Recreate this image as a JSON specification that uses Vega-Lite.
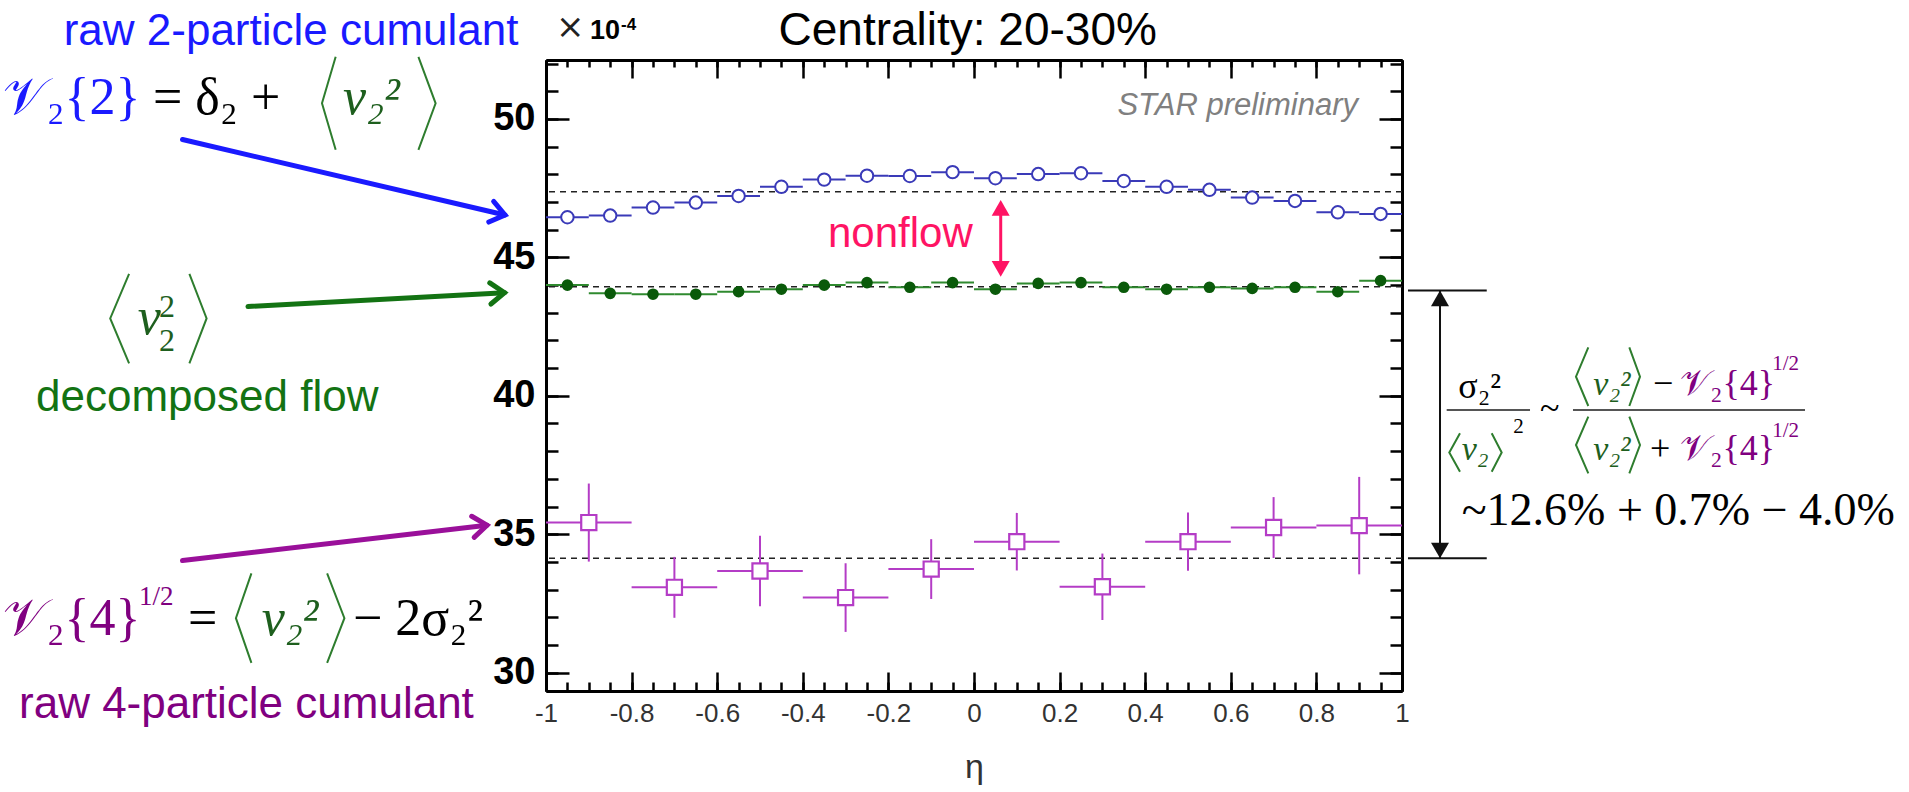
{
  "$schema": "https://vega.github.io/schema/vega-lite/v6.json",
  "width": 856,
  "height": 631,
  "autosize": {"type": "none"},
  "padding": {"left": 546, "top": 60, "right": 507, "bottom": 101},
  "background": "white",
  "config": {
    "view": {"stroke": null},
    "axis": {"grid": false, "domainColor": "#000000", "domainWidth": 3, "tickColor": "#000000", "tickWidth": 2.5}
  },
  "resolve": {"axis": {"x": "independent", "y": "independent"}},
  "datasets": {
    "v2": [
      {"eta": -0.95, "v": 46.45, "xlo": -1.0, "xhi": -0.9},
      {"eta": -0.85, "v": 46.51, "xlo": -0.9, "xhi": -0.8},
      {"eta": -0.75, "v": 46.80, "xlo": -0.8, "xhi": -0.7},
      {"eta": -0.65, "v": 46.98, "xlo": -0.7, "xhi": -0.6},
      {"eta": -0.55, "v": 47.22, "xlo": -0.6, "xhi": -0.5},
      {"eta": -0.45, "v": 47.55, "xlo": -0.5, "xhi": -0.4},
      {"eta": -0.35, "v": 47.81, "xlo": -0.4, "xhi": -0.3},
      {"eta": -0.25, "v": 47.95, "xlo": -0.3, "xhi": -0.2},
      {"eta": -0.15, "v": 47.94, "xlo": -0.2, "xhi": -0.1},
      {"eta": -0.05, "v": 48.08, "xlo": -0.1, "xhi": 0.0},
      {"eta": 0.05, "v": 47.86, "xlo": 0.0, "xhi": 0.1},
      {"eta": 0.15, "v": 48.01, "xlo": 0.1, "xhi": 0.2},
      {"eta": 0.25, "v": 48.04, "xlo": 0.2, "xhi": 0.3},
      {"eta": 0.35, "v": 47.76, "xlo": 0.3, "xhi": 0.4},
      {"eta": 0.45, "v": 47.55, "xlo": 0.4, "xhi": 0.5},
      {"eta": 0.55, "v": 47.44, "xlo": 0.5, "xhi": 0.6},
      {"eta": 0.65, "v": 47.16, "xlo": 0.6, "xhi": 0.7},
      {"eta": 0.75, "v": 47.04, "xlo": 0.7, "xhi": 0.8},
      {"eta": 0.85, "v": 46.63, "xlo": 0.8, "xhi": 0.9},
      {"eta": 0.95, "v": 46.57, "xlo": 0.9, "xhi": 1.0}
    ],
    "mean": [
      {"eta": -0.95, "v": 44.00, "xlo": -1.0, "xhi": -0.9},
      {"eta": -0.85, "v": 43.70, "xlo": -0.9, "xhi": -0.8},
      {"eta": -0.75, "v": 43.67, "xlo": -0.8, "xhi": -0.7},
      {"eta": -0.65, "v": 43.67, "xlo": -0.7, "xhi": -0.6},
      {"eta": -0.55, "v": 43.76, "xlo": -0.6, "xhi": -0.5},
      {"eta": -0.45, "v": 43.85, "xlo": -0.5, "xhi": -0.4},
      {"eta": -0.35, "v": 44.00, "xlo": -0.4, "xhi": -0.3},
      {"eta": -0.25, "v": 44.09, "xlo": -0.3, "xhi": -0.2},
      {"eta": -0.15, "v": 43.92, "xlo": -0.2, "xhi": -0.1},
      {"eta": -0.05, "v": 44.09, "xlo": -0.1, "xhi": 0.0},
      {"eta": 0.05, "v": 43.85, "xlo": 0.0, "xhi": 0.1},
      {"eta": 0.15, "v": 44.06, "xlo": 0.1, "xhi": 0.2},
      {"eta": 0.25, "v": 44.09, "xlo": 0.2, "xhi": 0.3},
      {"eta": 0.35, "v": 43.92, "xlo": 0.3, "xhi": 0.4},
      {"eta": 0.45, "v": 43.85, "xlo": 0.4, "xhi": 0.5},
      {"eta": 0.55, "v": 43.92, "xlo": 0.5, "xhi": 0.6},
      {"eta": 0.65, "v": 43.88, "xlo": 0.6, "xhi": 0.7},
      {"eta": 0.75, "v": 43.92, "xlo": 0.7, "xhi": 0.8},
      {"eta": 0.85, "v": 43.76, "xlo": 0.8, "xhi": 0.9},
      {"eta": 0.95, "v": 44.16, "xlo": 0.9, "xhi": 1.0}
    ],
    "v4": [
      {"eta": -0.9, "v": 35.42, "xlo": -1.0, "xhi": -0.8, "ylo": 34.01, "yhi": 36.83},
      {"eta": -0.7, "v": 33.08, "xlo": -0.8, "xhi": -0.6, "ylo": 31.98, "yhi": 34.18},
      {"eta": -0.5, "v": 33.67, "xlo": -0.6, "xhi": -0.4, "ylo": 32.40, "yhi": 34.94},
      {"eta": -0.3, "v": 32.71, "xlo": -0.4, "xhi": -0.2, "ylo": 31.47, "yhi": 33.95},
      {"eta": -0.1, "v": 33.74, "xlo": -0.2, "xhi": 0.0, "ylo": 32.66, "yhi": 34.82},
      {"eta": 0.1, "v": 34.73, "xlo": 0.0, "xhi": 0.2, "ylo": 33.69, "yhi": 35.77},
      {"eta": 0.3, "v": 33.10, "xlo": 0.2, "xhi": 0.4, "ylo": 31.90, "yhi": 34.30},
      {"eta": 0.5, "v": 34.73, "xlo": 0.4, "xhi": 0.6, "ylo": 33.68, "yhi": 35.78},
      {"eta": 0.7, "v": 35.24, "xlo": 0.6, "xhi": 0.8, "ylo": 34.14, "yhi": 36.34},
      {"eta": 0.9, "v": 35.31, "xlo": 0.8, "xhi": 1.0, "ylo": 33.55, "yhi": 37.07}
    ],
    "ref": [
      {"s": "v2", "v": 47.37},
      {"s": "mean", "v": 43.94},
      {"s": "v4", "v": 34.13}
    ],
    "ann": [
      {"k": "lab_blue", "x": -2.1269, "y": 52.681, "t": "raw 2-particle cumulant"},
      {"k": "lab_green", "x": -2.1916, "y": 39.433, "t": "decomposed flow"},
      {"k": "lab_purple", "x": -2.2313, "y": 28.36, "t": "raw 4-particle cumulant"},
      {"k": "f52_blue", "x": -2.2678, "y": 50.195, "t": "𝒱₂{2}"},
      {"k": "f52_black", "x": -1.9182, "y": 50.195, "t": "= δ₂ +"},
      {"k": "f52_green", "x": -1.4743, "y": 50.195, "t": "ν₂²"},
      {"k": "f52_green", "x": -1.954, "y": 42.233, "t": "ν"},
      {"k": "f34_green2", "x": -1.9042, "y": 42.847, "t": "2"},
      {"k": "f34_green2", "x": -1.9042, "y": 41.618, "t": "2"},
      {"k": "f52_purple", "x": -2.2678, "y": 31.344, "t": "𝒱₂{4}"},
      {"k": "f28_purple", "x": -1.951, "y": 32.45, "t": "1/2"},
      {"k": "f52_black", "x": -1.8364, "y": 31.344, "t": "="},
      {"k": "f52_green", "x": -1.6643, "y": 31.344, "t": "ν₂²"},
      {"k": "f52_black", "x": -1.4509, "y": 31.344, "t": "− 2σ₂²"},
      {"k": "f34_black", "x": 1.1316, "y": 39.909, "t": "σ₂²"},
      {"k": "f34_green", "x": 1.1395, "y": 37.681, "t": "ν₂"},
      {"k": "f20_black", "x": 1.26, "y": 38.656, "t": "2"},
      {"k": "f34_black", "x": 1.3224, "y": 39.126, "t": "~"},
      {"k": "f34_green", "x": 1.447, "y": 40.029, "t": "ν₂²"},
      {"k": "f34_black", "x": 1.5864, "y": 40.029, "t": "−"},
      {"k": "f34_purple", "x": 1.6495, "y": 40.029, "t": "𝒱₂{4}"},
      {"k": "f20_purple", "x": 1.865, "y": 40.932, "t": "1/2"},
      {"k": "f34_green", "x": 1.447, "y": 37.681, "t": "ν₂²"},
      {"k": "f34_black", "x": 1.5794, "y": 37.681, "t": "+"},
      {"k": "f34_purple", "x": 1.6495, "y": 37.681, "t": "𝒱₂{4}"},
      {"k": "f20_purple", "x": 1.865, "y": 38.523, "t": "1/2"},
      {"k": "f46_black", "x": 1.1395, "y": 35.332, "t": "~12.6% + 0.7% − 4.0%"},
      {"k": "title", "x": -0.0147, "y": 52.655, "t": "Centrality: 20-30%"},
      {"k": "times", "x": -0.9766, "y": 52.93, "t": "×"},
      {"k": "ten", "x": -0.8972, "y": 52.879, "t": "10"},
      {"k": "exp", "x": -0.8248, "y": 53.215, "t": "-4"},
      {"k": "star", "x": 0.8972, "y": 50.145, "t": "STAR preliminary"},
      {"k": "nonflow", "x": -0.3411, "y": 45.387, "t": "nonflow"}
    ],
    "brk": [
      {"id": "f1L", "o": 0, "x": -1.4914, "y": 52.247}, {"id": "f1L", "o": 1, "x": -1.5234, "y": 50.567}, {"id": "f1L", "o": 2, "x": -1.4914, "y": 48.887},
      {"id": "f1R", "o": 0, "x": -1.2981, "y": 52.247}, {"id": "f1R", "o": 1, "x": -1.2579, "y": 50.567}, {"id": "f1R", "o": 2, "x": -1.2981, "y": 48.887},
      {"id": "f2L", "o": 0, "x": -1.9741, "y": 44.407}, {"id": "f2L", "o": 1, "x": -2.0182, "y": 42.793}, {"id": "f2L", "o": 2, "x": -1.9741, "y": 41.174},
      {"id": "f2R", "o": 0, "x": -1.8332, "y": 44.407}, {"id": "f2R", "o": 1, "x": -1.793, "y": 42.793}, {"id": "f2R", "o": 2, "x": -1.8332, "y": 41.174},
      {"id": "f3L", "o": 0, "x": -1.6883, "y": 33.584}, {"id": "f3L", "o": 1, "x": -1.7245, "y": 31.965}, {"id": "f3L", "o": 2, "x": -1.6883, "y": 30.35},
      {"id": "f3R", "o": 0, "x": -1.5114, "y": 33.584}, {"id": "f3R", "o": 1, "x": -1.471, "y": 31.965}, {"id": "f3R", "o": 2, "x": -1.5114, "y": 30.35},
      {"id": "r1L", "o": 0, "x": 1.1355, "y": 38.645}, {"id": "r1L", "o": 1, "x": 1.1105, "y": 37.952}, {"id": "r1L", "o": 2, "x": 1.1355, "y": 37.258},
      {"id": "r1R", "o": 0, "x": 1.2096, "y": 38.645}, {"id": "r1R", "o": 1, "x": 1.2329, "y": 37.952}, {"id": "r1R", "o": 2, "x": 1.2096, "y": 37.258},
      {"id": "r2L", "o": 0, "x": 1.4353, "y": 41.752}, {"id": "r2L", "o": 1, "x": 1.4065, "y": 40.69}, {"id": "r2L", "o": 2, "x": 1.4353, "y": 39.631},
      {"id": "r2R", "o": 0, "x": 1.5311, "y": 41.752}, {"id": "r2R", "o": 1, "x": 1.5561, "y": 40.69}, {"id": "r2R", "o": 2, "x": 1.5311, "y": 39.631},
      {"id": "r3L", "o": 0, "x": 1.4353, "y": 39.245}, {"id": "r3L", "o": 1, "x": 1.4065, "y": 38.222}, {"id": "r3L", "o": 2, "x": 1.4353, "y": 37.2},
      {"id": "r3R", "o": 0, "x": 1.5311, "y": 39.245}, {"id": "r3R", "o": 1, "x": 1.5561, "y": 38.222}, {"id": "r3R", "o": 2, "x": 1.5311, "y": 37.2}
    ],
    "arrows": [
      {"k": "blue", "x": -1.8493, "y": 49.259, "x2": -1.0958, "y2": 46.532},
      {"k": "green", "x": -1.6963, "y": 43.226, "x2": -1.097, "y2": 43.725},
      {"k": "purple", "x": -1.8493, "y": 34.046, "x2": -1.1379, "y2": 35.325}
    ],
    "bars": [
      {"k": "bracket", "x": 1.014, "y": 43.80, "x2": 1.198, "y2": 43.80},
      {"k": "bracket", "x": 1.014, "y": 34.13, "x2": 1.198, "y2": 34.13},
      {"k": "bracket", "x": 1.0888, "y": 43.80, "x2": 1.0888, "y2": 34.13},
      {"k": "frac", "x": 1.1044, "y": 39.487, "x2": 1.2991, "y2": 39.487},
      {"k": "frac", "x": 1.3995, "y": 39.487, "x2": 1.9416, "y2": 39.487},
      {"k": "nonflow", "x": 0.0624, "y": 46.79, "x2": 0.0624, "y2": 44.585}
    ],
    "heads": [
      {"k": "up_black", "x": 1.0888, "y": 43.52},
      {"k": "down_black", "x": 1.0888, "y": 34.41},
      {"k": "up_pink", "x": 0.0624, "y": 46.79},
      {"k": "down_pink", "x": 0.0624, "y": 44.585}
    ]
  },
  "layer": [
    {
      "data": {"name": "ref"},
      "mark": {"type": "rule", "color": "#222222", "strokeWidth": 1.6, "strokeDash": [6, 5]},
      "encoding": {
        "y": {"field": "v", "type": "quantitative", "scale": {"domain": [29.335, 52.131], "nice": false, "zero": false}, "axis": null}
      }
    },
    {
      "data": {"name": "v2"},
      "mark": {"type": "rule", "color": "#3a3ab8", "strokeWidth": 2},
      "encoding": {
        "x": {"field": "xlo", "type": "quantitative", "scale": {"domain": [-1, 1], "nice": false, "zero": false},
          "axis": {"orient": "bottom", "values": [-1, -0.8, -0.6, -0.4, -0.2, 0, 0.2, 0.4, 0.6, 0.8, 1], "tickSize": -19, "labelPadding": 28, "labelExpr": "toString(datum.value)", "labelFont": "Liberation Sans", "labelFontSize": 26, "labelColor": "#333333", "labelFlush": false, "labelOverlap": false, "title": "η", "titleFont": "Liberation Sans", "titleFontSize": 34, "titleFontWeight": "normal", "titleColor": "#333333", "titlePadding": 24}},
        "x2": {"field": "xhi"},
        "y": {"field": "v", "type": "quantitative", "scale": {"domain": [29.335, 52.131], "nice": false, "zero": false},
          "axis": {"orient": "left", "values": [30, 35, 40, 45, 50], "tickSize": -23, "labelPadding": 34, "labelFont": "Liberation Sans", "labelFontSize": 38, "labelFontWeight": "bold", "labelColor": "#000000", "labelFlush": false, "title": null}}
      }
    },
    {
      "data": {"name": "v2"},
      "mark": {"type": "point", "shape": "circle", "filled": true, "fill": "white", "stroke": "#3a3ab8", "strokeWidth": 2, "size": 155, "opacity": 1},
      "encoding": {
        "x": {"field": "eta", "type": "quantitative", "scale": {"domain": [-1, 1], "nice": false, "zero": false},
          "axis": {"orient": "bottom", "values": [-0.95, -0.9, -0.85, -0.8, -0.75, -0.7, -0.65, -0.6, -0.55, -0.5, -0.45, -0.4, -0.35, -0.3, -0.25, -0.2, -0.15, -0.1, -0.05, 0, 0.05, 0.1, 0.15, 0.2, 0.25, 0.3, 0.35, 0.4, 0.45, 0.5, 0.55, 0.6, 0.65, 0.7, 0.75, 0.8, 0.85, 0.9, 0.95], "tickSize": -9, "labels": false, "title": null}},
        "y": {"field": "v", "type": "quantitative", "scale": {"domain": [29.335, 52.131], "nice": false, "zero": false},
          "axis": {"orient": "left", "values": [30, 31, 32, 33, 34, 35, 36, 37, 38, 39, 40, 41, 42, 43, 44, 45, 46, 47, 48, 49, 50, 51, 52], "tickSize": -12, "labels": false, "title": null}}
      }
    },
    {
      "data": {"name": "mean"},
      "mark": {"type": "rule", "color": "#2f8a2f", "strokeWidth": 2},
      "encoding": {
        "x": {"field": "xlo", "type": "quantitative", "scale": {"domain": [-1, 1], "nice": false, "zero": false},
          "axis": {"orient": "top", "values": [-1, -0.8, -0.6, -0.4, -0.2, 0, 0.2, 0.4, 0.6, 0.8, 1], "tickSize": -18, "labels": false, "title": null}},
        "x2": {"field": "xhi"},
        "y": {"field": "v", "type": "quantitative", "scale": {"domain": [29.335, 52.131], "nice": false, "zero": false},
          "axis": {"orient": "right", "values": [30, 35, 40, 45, 50], "tickSize": -23, "labels": false, "title": null}}
      }
    },
    {
      "data": {"name": "mean"},
      "mark": {"type": "point", "shape": "circle", "filled": true, "color": "#0a5a0a", "size": 135, "opacity": 1},
      "encoding": {
        "x": {"field": "eta", "type": "quantitative", "scale": {"domain": [-1, 1], "nice": false, "zero": false},
          "axis": {"orient": "top", "values": [-0.95, -0.9, -0.85, -0.8, -0.75, -0.7, -0.65, -0.6, -0.55, -0.5, -0.45, -0.4, -0.35, -0.3, -0.25, -0.2, -0.15, -0.1, -0.05, 0, 0.05, 0.1, 0.15, 0.2, 0.25, 0.3, 0.35, 0.4, 0.45, 0.5, 0.55, 0.6, 0.65, 0.7, 0.75, 0.8, 0.85, 0.9, 0.95], "tickSize": -7, "labels": false, "title": null}},
        "y": {"field": "v", "type": "quantitative", "scale": {"domain": [29.335, 52.131], "nice": false, "zero": false},
          "axis": {"orient": "right", "values": [30, 31, 32, 33, 34, 35, 36, 37, 38, 39, 40, 41, 42, 43, 44, 45, 46, 47, 48, 49, 50, 51, 52], "tickSize": -12, "labels": false, "title": null}}
      }
    },
    {
      "data": {"name": "v4"},
      "mark": {"type": "rule", "color": "#b43cc6", "strokeWidth": 2},
      "encoding": {
        "x": {"field": "xlo", "type": "quantitative", "scale": {"domain": [-1, 1], "nice": false, "zero": false}, "axis": null},
        "x2": {"field": "xhi"},
        "y": {"field": "v", "type": "quantitative", "scale": {"domain": [29.335, 52.131], "nice": false, "zero": false}, "axis": null}
      }
    },
    {
      "data": {"name": "v4"},
      "mark": {"type": "rule", "color": "#b43cc6", "strokeWidth": 2},
      "encoding": {
        "x": {"field": "eta", "type": "quantitative", "scale": {"domain": [-1, 1], "nice": false, "zero": false}, "axis": null},
        "y": {"field": "ylo", "type": "quantitative", "scale": {"domain": [29.335, 52.131], "nice": false, "zero": false}, "axis": null},
        "y2": {"field": "yhi"}
      }
    },
    {
      "data": {"name": "v4"},
      "mark": {"type": "point", "shape": "square", "filled": true, "fill": "white", "stroke": "#b43cc6", "strokeWidth": 2.2, "size": 230, "opacity": 1},
      "encoding": {
        "x": {"field": "eta", "type": "quantitative", "scale": {"domain": [-1, 1], "nice": false, "zero": false}, "axis": null},
        "y": {"field": "v", "type": "quantitative", "scale": {"domain": [29.335, 52.131], "nice": false, "zero": false}, "axis": null}
      }
    },
    {
      "data": {"name": "bars"},
      "transform": [{"filter": "datum.k === 'bracket'"}],
      "mark": {"type": "rule", "color": "#111111", "strokeWidth": 2, "clip": false},
      "encoding": {
        "x": {"field": "x", "type": "quantitative", "scale": {"domain": [-1, 1], "nice": false, "zero": false}, "axis": null},
        "y": {"field": "y", "type": "quantitative", "scale": {"domain": [29.335, 52.131], "nice": false, "zero": false}, "axis": null},
        "x2": {"field": "x2"},
        "y2": {"field": "y2"}
      }
    },
    {
      "data": {"name": "bars"},
      "transform": [{"filter": "datum.k === 'frac'"}],
      "mark": {"type": "rule", "color": "#555555", "strokeWidth": 2, "clip": false},
      "encoding": {
        "x": {"field": "x", "type": "quantitative", "scale": {"domain": [-1, 1], "nice": false, "zero": false}, "axis": null},
        "y": {"field": "y", "type": "quantitative", "scale": {"domain": [29.335, 52.131], "nice": false, "zero": false}, "axis": null},
        "x2": {"field": "x2"},
        "y2": {"field": "y2"}
      }
    },
    {
      "data": {"name": "bars"},
      "transform": [{"filter": "datum.k === 'nonflow'"}],
      "mark": {"type": "rule", "color": "#ff1464", "strokeWidth": 3, "clip": false},
      "encoding": {
        "x": {"field": "x", "type": "quantitative", "scale": {"domain": [-1, 1], "nice": false, "zero": false}, "axis": null},
        "y": {"field": "y", "type": "quantitative", "scale": {"domain": [29.335, 52.131], "nice": false, "zero": false}, "axis": null},
        "x2": {"field": "x2"},
        "y2": {"field": "y2"}
      }
    },
    {
      "data": {"name": "brk"},
      "mark": {"type": "line", "color": "#2e7d2e", "strokeWidth": 2, "clip": false},
      "encoding": {
        "x": {"field": "x", "type": "quantitative", "scale": {"domain": [-1, 1], "nice": false, "zero": false}, "axis": null},
        "y": {"field": "y", "type": "quantitative", "scale": {"domain": [29.335, 52.131], "nice": false, "zero": false}, "axis": null},
        "detail": {"field": "id", "type": "nominal"},
        "order": {"field": "o", "type": "quantitative"}
      }
    },
    {
      "data": {"name": "heads"},
      "transform": [{"filter": "datum.k === 'up_black'"}],
      "mark": {"type": "point", "shape": "triangle-up", "filled": true, "color": "#111111", "size": 324, "opacity": 1, "clip": false},
      "encoding": {
        "x": {"field": "x", "type": "quantitative", "scale": {"domain": [-1, 1], "nice": false, "zero": false}, "axis": null},
        "y": {"field": "y", "type": "quantitative", "scale": {"domain": [29.335, 52.131], "nice": false, "zero": false}, "axis": null}
      }
    },
    {
      "data": {"name": "heads"},
      "transform": [{"filter": "datum.k === 'down_black'"}],
      "mark": {"type": "point", "shape": "triangle-down", "filled": true, "color": "#111111", "size": 324, "opacity": 1, "clip": false},
      "encoding": {
        "x": {"field": "x", "type": "quantitative", "scale": {"domain": [-1, 1], "nice": false, "zero": false}, "axis": null},
        "y": {"field": "y", "type": "quantitative", "scale": {"domain": [29.335, 52.131], "nice": false, "zero": false}, "axis": null}
      }
    },
    {
      "data": {"name": "heads"},
      "transform": [{"filter": "datum.k === 'up_pink'"}],
      "mark": {"type": "point", "shape": "triangle-up", "filled": true, "color": "#ff1464", "size": 324, "opacity": 1, "clip": false},
      "encoding": {
        "x": {"field": "x", "type": "quantitative", "scale": {"domain": [-1, 1], "nice": false, "zero": false}, "axis": null},
        "y": {"field": "y", "type": "quantitative", "scale": {"domain": [29.335, 52.131], "nice": false, "zero": false}, "axis": null}
      }
    },
    {
      "data": {"name": "heads"},
      "transform": [{"filter": "datum.k === 'down_pink'"}],
      "mark": {"type": "point", "shape": "triangle-down", "filled": true, "color": "#ff1464", "size": 324, "opacity": 1, "clip": false},
      "encoding": {
        "x": {"field": "x", "type": "quantitative", "scale": {"domain": [-1, 1], "nice": false, "zero": false}, "axis": null},
        "y": {"field": "y", "type": "quantitative", "scale": {"domain": [29.335, 52.131], "nice": false, "zero": false}, "axis": null}
      }
    },
    {
      "data": {"name": "arrows"},
      "transform": [{"filter": "datum.k === 'blue'"}],
      "layer": [
        {"mark": {"type": "rule", "color": "#1a1aff", "strokeWidth": 5, "strokeCap": "round", "clip": false},
         "encoding": {
          "x": {"field": "x", "type": "quantitative", "scale": {"domain": [-1, 1], "nice": false, "zero": false}, "axis": null},
          "y": {"field": "y", "type": "quantitative", "scale": {"domain": [29.335, 52.131], "nice": false, "zero": false}, "axis": null},
          "x2": {"field": "x2"}, "y2": {"field": "y2"}}},
        {"mark": {"type": "point", "shape": "M-1,-0.75L0,0L-1,0.75", "filled": false, "stroke": "#1a1aff", "strokeWidth": 5, "strokeCap": "round", "strokeJoin": "miter", "size": 800, "angle": 13.2, "opacity": 1, "clip": false},
         "encoding": {
          "x": {"field": "x2", "type": "quantitative", "scale": {"domain": [-1, 1], "nice": false, "zero": false}, "axis": null},
          "y": {"field": "y2", "type": "quantitative", "scale": {"domain": [29.335, 52.131], "nice": false, "zero": false}, "axis": null}}}
      ]
    },
    {
      "data": {"name": "arrows"},
      "transform": [{"filter": "datum.k === 'green'"}],
      "layer": [
        {"mark": {"type": "rule", "color": "#137313", "strokeWidth": 5, "strokeCap": "round", "clip": false},
         "encoding": {
          "x": {"field": "x", "type": "quantitative", "scale": {"domain": [-1, 1], "nice": false, "zero": false}, "axis": null},
          "y": {"field": "y", "type": "quantitative", "scale": {"domain": [29.335, 52.131], "nice": false, "zero": false}, "axis": null},
          "x2": {"field": "x2"}, "y2": {"field": "y2"}}},
        {"mark": {"type": "point", "shape": "M-1,-0.75L0,0L-1,0.75", "filled": false, "stroke": "#137313", "strokeWidth": 5, "strokeCap": "round", "strokeJoin": "miter", "size": 800, "angle": -3.1, "opacity": 1, "clip": false},
         "encoding": {
          "x": {"field": "x2", "type": "quantitative", "scale": {"domain": [-1, 1], "nice": false, "zero": false}, "axis": null},
          "y": {"field": "y2", "type": "quantitative", "scale": {"domain": [29.335, 52.131], "nice": false, "zero": false}, "axis": null}}}
      ]
    },
    {
      "data": {"name": "arrows"},
      "transform": [{"filter": "datum.k === 'purple'"}],
      "layer": [
        {"mark": {"type": "rule", "color": "#9a109a", "strokeWidth": 5, "strokeCap": "round", "clip": false},
         "encoding": {
          "x": {"field": "x", "type": "quantitative", "scale": {"domain": [-1, 1], "nice": false, "zero": false}, "axis": null},
          "y": {"field": "y", "type": "quantitative", "scale": {"domain": [29.335, 52.131], "nice": false, "zero": false}, "axis": null},
          "x2": {"field": "x2"}, "y2": {"field": "y2"}}},
        {"mark": {"type": "point", "shape": "M-1,-0.75L0,0L-1,0.75", "filled": false, "stroke": "#9a109a", "strokeWidth": 5, "strokeCap": "round", "strokeJoin": "miter", "size": 800, "angle": -6.6, "opacity": 1, "clip": false},
         "encoding": {
          "x": {"field": "x2", "type": "quantitative", "scale": {"domain": [-1, 1], "nice": false, "zero": false}, "axis": null},
          "y": {"field": "y2", "type": "quantitative", "scale": {"domain": [29.335, 52.131], "nice": false, "zero": false}, "axis": null}}}
      ]
    },
    {
      "data": {"name": "ann"},
      "layer": [
        {"transform": [{"filter": "datum.k === 'lab_blue'"}], "mark": {"type": "text", "font": "Liberation Sans", "fontSize": 44, "color": "#1a1aff", "align": "left", "baseline": "alphabetic", "clip": false}},
        {"transform": [{"filter": "datum.k === 'lab_green'"}], "mark": {"type": "text", "font": "Liberation Sans", "fontSize": 44, "color": "#137313", "align": "left", "baseline": "alphabetic", "clip": false}},
        {"transform": [{"filter": "datum.k === 'lab_purple'"}], "mark": {"type": "text", "font": "Liberation Sans", "fontSize": 44, "color": "#800080", "align": "left", "baseline": "alphabetic", "clip": false}},
        {"transform": [{"filter": "datum.k === 'f52_blue'"}], "mark": {"type": "text", "font": "Liberation Serif", "fontSize": 52, "color": "#1a1aff", "align": "left", "baseline": "alphabetic", "clip": false}},
        {"transform": [{"filter": "datum.k === 'f52_black'"}], "mark": {"type": "text", "font": "Liberation Serif", "fontSize": 52, "color": "#000000", "align": "left", "baseline": "alphabetic", "clip": false}},
        {"transform": [{"filter": "datum.k === 'f52_green'"}], "mark": {"type": "text", "font": "Liberation Serif", "fontSize": 52, "fontStyle": "italic", "color": "#1e5f1e", "align": "left", "baseline": "alphabetic", "clip": false}},
        {"transform": [{"filter": "datum.k === 'f34_green2'"}], "mark": {"type": "text", "font": "Liberation Serif", "fontSize": 32, "color": "#1e5f1e", "align": "left", "baseline": "alphabetic", "clip": false}},
        {"transform": [{"filter": "datum.k === 'f52_purple'"}], "mark": {"type": "text", "font": "Liberation Serif", "fontSize": 52, "color": "#800080", "align": "left", "baseline": "alphabetic", "clip": false}},
        {"transform": [{"filter": "datum.k === 'f28_purple'"}], "mark": {"type": "text", "font": "Liberation Serif", "fontSize": 27, "color": "#800080", "align": "left", "baseline": "alphabetic", "clip": false}},
        {"transform": [{"filter": "datum.k === 'f34_black'"}], "mark": {"type": "text", "font": "Liberation Serif", "fontSize": 36, "color": "#000000", "align": "left", "baseline": "alphabetic", "clip": false}},
        {"transform": [{"filter": "datum.k === 'f34_green'"}], "mark": {"type": "text", "font": "Liberation Serif", "fontSize": 34, "fontStyle": "italic", "color": "#1e5f1e", "align": "left", "baseline": "alphabetic", "clip": false}},
        {"transform": [{"filter": "datum.k === 'f34_purple'"}], "mark": {"type": "text", "font": "Liberation Serif", "fontSize": 36, "color": "#800080", "align": "left", "baseline": "alphabetic", "clip": false}},
        {"transform": [{"filter": "datum.k === 'f20_purple'"}], "mark": {"type": "text", "font": "Liberation Serif", "fontSize": 21, "color": "#800080", "align": "left", "baseline": "alphabetic", "clip": false}},
        {"transform": [{"filter": "datum.k === 'f20_black'"}], "mark": {"type": "text", "font": "Liberation Serif", "fontSize": 21, "color": "#000000", "align": "left", "baseline": "alphabetic", "clip": false}},
        {"transform": [{"filter": "datum.k === 'f46_black'"}], "mark": {"type": "text", "font": "Liberation Serif", "fontSize": 46, "color": "#000000", "align": "left", "baseline": "alphabetic", "clip": false}},
        {"transform": [{"filter": "datum.k === 'title'"}], "mark": {"type": "text", "font": "Liberation Sans", "fontSize": 46, "color": "#000000", "align": "center", "baseline": "alphabetic", "clip": false}},
        {"transform": [{"filter": "datum.k === 'times'"}], "mark": {"type": "text", "font": "DejaVu Sans", "fontSize": 34, "color": "#222222", "align": "left", "baseline": "alphabetic", "clip": false}},
        {"transform": [{"filter": "datum.k === 'ten'"}], "mark": {"type": "text", "font": "Liberation Sans", "fontSize": 27, "fontWeight": "bold", "color": "#000000", "align": "left", "baseline": "alphabetic", "clip": false}},
        {"transform": [{"filter": "datum.k === 'exp'"}], "mark": {"type": "text", "font": "Liberation Sans", "fontSize": 17, "fontWeight": "bold", "color": "#000000", "align": "left", "baseline": "alphabetic", "clip": false}},
        {"transform": [{"filter": "datum.k === 'star'"}], "mark": {"type": "text", "font": "Liberation Sans", "fontSize": 31, "fontStyle": "italic", "color": "#808080", "align": "right", "baseline": "alphabetic", "clip": false}},
        {"transform": [{"filter": "datum.k === 'nonflow'"}], "mark": {"type": "text", "font": "Liberation Sans", "fontSize": 42, "color": "#ff1464", "align": "left", "baseline": "alphabetic", "clip": false}}
      ],
      "encoding": {
        "x": {"field": "x", "type": "quantitative", "scale": {"domain": [-1, 1], "nice": false, "zero": false}, "axis": null},
        "y": {"field": "y", "type": "quantitative", "scale": {"domain": [29.335, 52.131], "nice": false, "zero": false}, "axis": null},
        "text": {"field": "t", "type": "nominal"}
      }
    }
  ]
}
